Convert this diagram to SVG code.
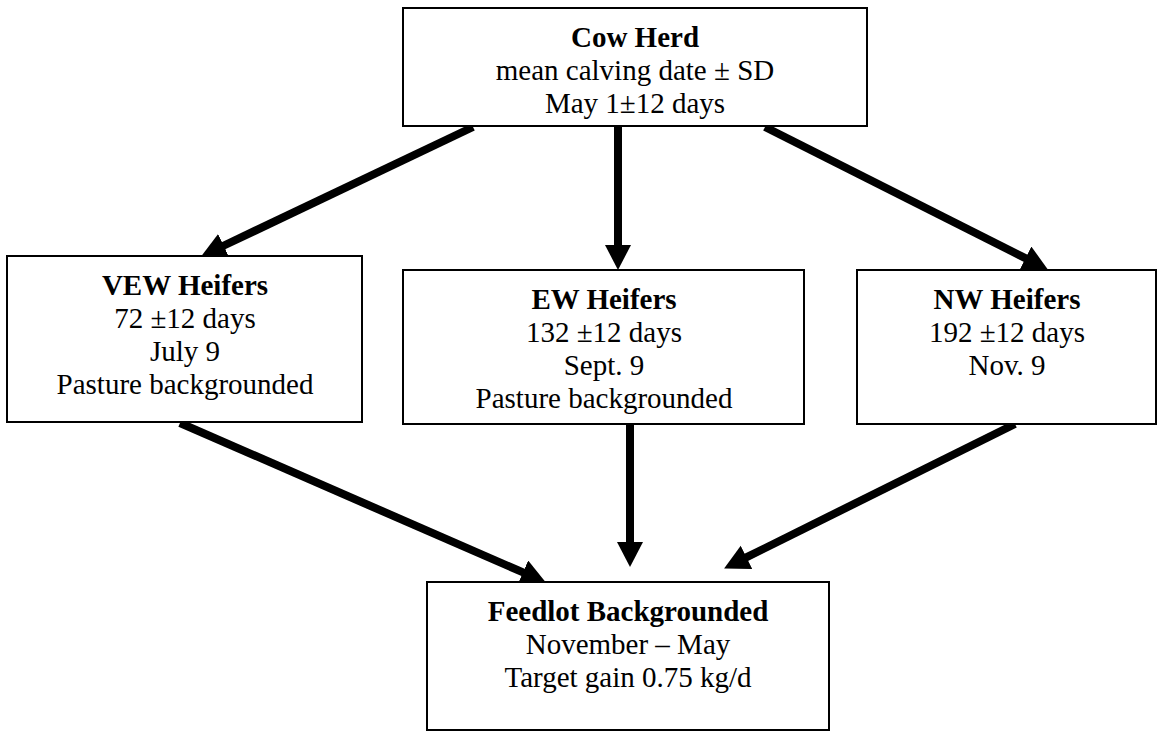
<svg xmlns="http://www.w3.org/2000/svg" width="1158" height="733" viewBox="0 0 1158 733">
<style>
.box{fill:#fff;stroke:#000;stroke-width:2}
text{font-family:"Liberation Serif","Times New Roman",serif;font-size:29px;fill:#000;text-anchor:middle}
.t{font-weight:bold}
.c{stroke:#000;stroke-width:8;fill:none;marker-end:url(#ah)}
</style>
<defs>
<marker id="ah" markerUnits="userSpaceOnUse" markerWidth="28" markerHeight="28" refX="2" refY="13" orient="auto">
<path d="M0,0 L25,13 L0,26 z" fill="#000"/>
</marker>
</defs>
<rect width="1158" height="733" fill="#fff"/>
<g id="connectors">
<line class="c" x1="473" y1="127" x2="221.9" y2="246.5"/>
<line class="c" x1="618" y1="127" x2="618" y2="247"/>
<line class="c" x1="765" y1="127" x2="1027.3" y2="259.1"/>
<line class="c" x1="180" y1="423" x2="524.8" y2="573.2"/>
<line class="c" x1="630" y1="424" x2="630" y2="544"/>
<line class="c" x1="1015" y1="424" x2="744.7" y2="558.2"/>
</g>
<g id="cow-herd">
<rect class="box" x="403" y="8" width="464" height="118"/>
<text class="t" x="635" y="47">Cow Herd</text>
<text x="635" y="80">mean calving date ± SD</text>
<text x="635" y="113">May 1±12 days</text>
</g>
<g id="vew">
<rect class="box" x="7" y="256" width="355" height="166"/>
<text class="t" x="185" y="295">VEW Heifers</text>
<text x="185" y="328">72 ±12 days</text>
<text x="185" y="361">July 9</text>
<text x="185" y="394">Pasture backgrounded</text>
</g>
<g id="ew">
<rect class="box" x="403" y="270" width="401" height="154"/>
<text class="t" x="604" y="309">EW Heifers</text>
<text x="604" y="342">132 ±12 days</text>
<text x="604" y="375">Sept. 9</text>
<text x="604" y="408">Pasture backgrounded</text>
</g>
<g id="nw">
<rect class="box" x="857" y="270" width="299" height="154"/>
<text class="t" x="1007" y="309">NW Heifers</text>
<text x="1007" y="342">192 ±12 days</text>
<text x="1007" y="375">Nov. 9</text>
</g>
<g id="feedlot">
<rect class="box" x="427" y="582" width="402" height="148"/>
<text class="t" x="628" y="621">Feedlot Backgrounded</text>
<text x="628" y="654">November – May</text>
<text x="628" y="687">Target gain 0.75 kg/d</text>
</g>
</svg>
